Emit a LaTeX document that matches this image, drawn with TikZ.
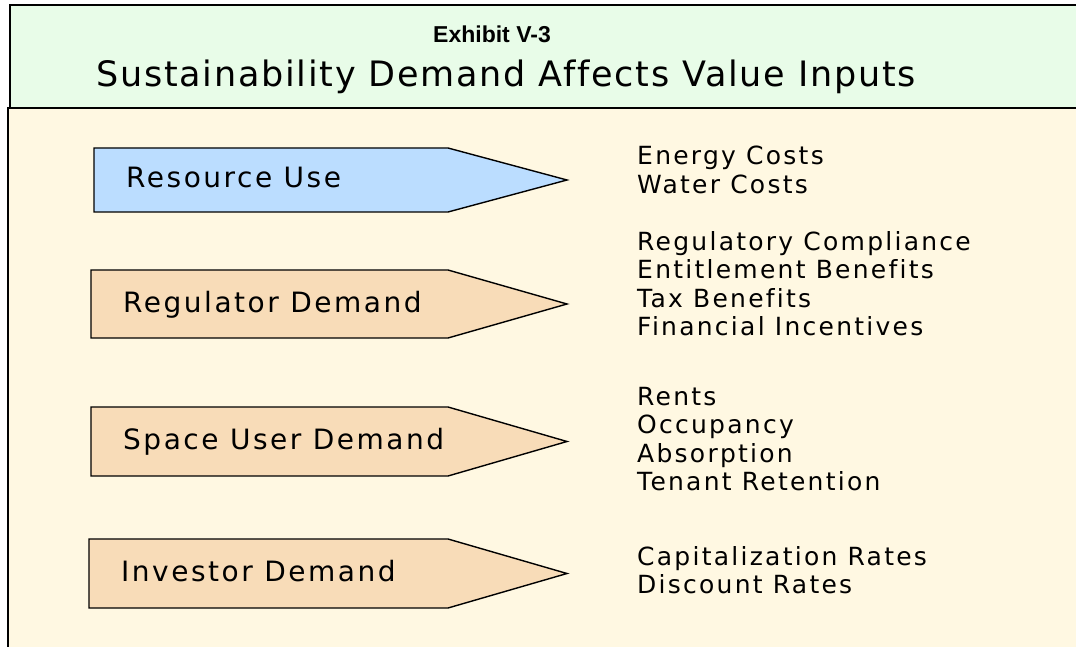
\documentclass[tikz,border=0pt]{standalone}
\usepackage{fontspec}
\setmainfont{DejaVu Sans}
\newfontfamily\exhibitfont{Liberation Sans}
\newfontfamily\titlefont[LetterSpace=5, Ligatures=NoCommon]{DejaVu Sans}
\newfontfamily\widefont[LetterSpace=9, Ligatures=NoCommon]{DejaVu Sans}
\definecolor{headgreen}{RGB}{232,252,232}
\definecolor{bodycream}{RGB}{255,248,226}
\definecolor{useblue}{RGB}{187,221,255}
\definecolor{demandtan}{RGB}{248,220,184}

\begin{document}
\begin{tikzpicture}[x=1pt, y=-1pt,
    frame/.style={line width=1.6pt},
    sign/.style={draw, line width=1.4pt, line join=miter},
    signlabel/.style={anchor=base west, inner sep=0pt, font=\widefont\fontsize{28}{32}\selectfont},
    inputs/.style={anchor=base west, inner sep=0pt, align=left, font=\widefont\fontsize{25}{28.5}\selectfont}]
  \useasboundingbox (0,0) rectangle (1076,647);
  \fill[headgreen] (10,5) rectangle (1076,108);
  \fill[bodycream] (8,108) rectangle (1076,647);
  \draw[frame] (1076,5) -- (10,5) -- (10,108);
  \draw[frame] (1076,108) -- (8,108) -- (8,647);
  \node[anchor=base, inner sep=0pt, font=\exhibitfont\bfseries\fontsize{23}{26}\selectfont] (exhibit) at (492,43) {Exhibit V-3};
  \node[anchor=base, inner sep=0pt, font=\titlefont\fontsize{35}{40}\selectfont] (title) at (506,87) {Sustainability Demand Affects Value Inputs};
  \foreach \l/\t/\b/\c/\n/\txt in {94/148/212/useblue/resource/Resource Use,
      91/270/338/demandtan/regulator/Regulator Demand,
      91/407/476/demandtan/spaceuser/Space User Demand,
      89/539/608/demandtan/investor/Investor Demand}{
    \draw[sign, fill=\c] (\l,\t) -- (448,\t) -- (567,{(\t+\b)/2}) -- (448,\b) -- (\l,\b) -- cycle;
    \node[signlabel] (\n) at (\l+32,{(\t+\b)/2+8}) {\txt};
  }
  \node[inputs] (costs) at (637,193.5) {Energy Costs\\Water Costs};
  \node[inputs] (rules) at (637,335.5) {Regulatory Compliance\\Entitlement Benefits\\Tax Benefits\\Financial Incentives};
  \node[inputs] (market) at (637,490.5) {Rents\\Occupancy\\Absorption\\Tenant Retention};
  \node[inputs] (pricing) at (637,593.5) {Capitalization Rates\\Discount Rates};
\end{tikzpicture}
\end{document}
